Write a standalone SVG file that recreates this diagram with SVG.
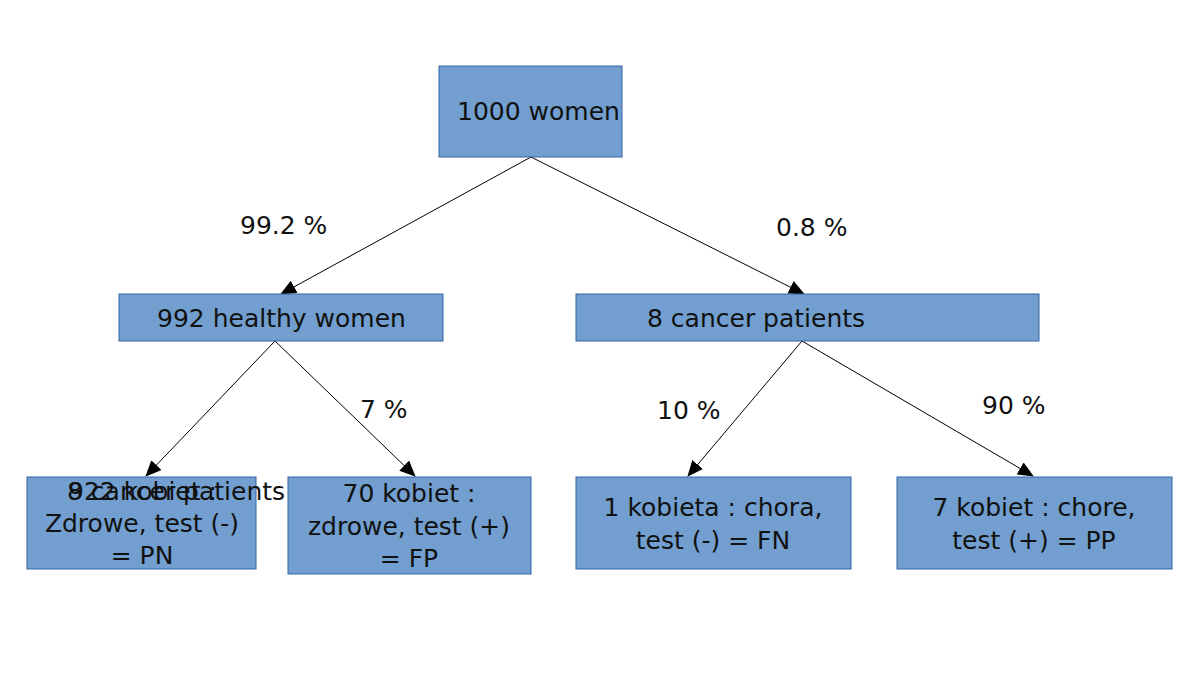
<svg xmlns="http://www.w3.org/2000/svg" width="1200" height="675" viewBox="0 0 1200 675">
<defs><marker id="a" markerWidth="16" markerHeight="14" refX="15" refY="7" orient="auto" markerUnits="userSpaceOnUse"><path d="M0,0 L16,7 L0,14 z" fill="#000"/></marker></defs>
<style>.n{fill:#729fcf;stroke:#3465a4;stroke-width:1}.t{font-family:"DejaVu Sans",sans-serif;font-size:25px;fill:#111}.c{stroke:#000;stroke-width:1;fill:none;marker-end:url(#a)}</style>
<rect width="1200" height="675" fill="#fff"/>
<g id="connectors">
<line class="c" x1="531" y1="157" x2="281" y2="294"/>
<line class="c" x1="531" y1="157" x2="804" y2="294"/>
<line class="c" x1="275" y1="341" x2="146" y2="476"/>
<line class="c" x1="275" y1="341" x2="415" y2="476"/>
<line class="c" x1="802" y1="341" x2="688" y2="476"/>
<line class="c" x1="802" y1="341" x2="1033" y2="476"/>
</g>
<g id="labels" class="t">
<text x="240" y="234">99.2 %</text>
<text x="776" y="236">0.8 %</text>
<text x="360" y="418">7 %</text>
<text x="657" y="419">10 %</text>
<text x="982" y="414">90 %</text>
</g>
<g id="n1"><rect class="n" x="439" y="66" width="183" height="91"/><text class="t" x="457" y="120">1000 women</text></g>
<g id="n2"><rect class="n" x="119" y="294" width="324" height="47"/><text class="t" x="157" y="327">992 healthy women</text></g>
<g id="n3"><rect class="n" x="576" y="294" width="463" height="47"/><text class="t" x="647" y="327">8 cancer patients</text></g>
<g id="n4"><rect class="n" x="27" y="477" width="229" height="92"/>
<text class="t" x="68" y="500">922 kobiet :</text><text class="t" x="67" y="500">8 cancer patients</text>
<text class="t" x="142" y="532" text-anchor="middle">Zdrowe, test (-)</text><text class="t" x="142" y="564" text-anchor="middle">= PN</text></g>
<g id="n5"><rect class="n" x="288" y="477" width="243" height="97"/>
<text class="t" x="409" y="502" text-anchor="middle">70 kobiet :</text><text class="t" x="409" y="535" text-anchor="middle">zdrowe, test (+)</text><text class="t" x="409" y="567" text-anchor="middle">= FP</text></g>
<g id="n6"><rect class="n" x="576" y="477" width="275" height="92"/>
<text class="t" x="713" y="516" text-anchor="middle">1 kobieta : chora,</text><text class="t" x="713" y="549" text-anchor="middle">test (-) = FN</text></g>
<g id="n7"><rect class="n" x="897" y="477" width="275" height="92"/>
<text class="t" x="1034" y="516" text-anchor="middle">7 kobiet : chore,</text><text class="t" x="1034" y="549" text-anchor="middle">test (+) = PP</text></g>
</svg>
